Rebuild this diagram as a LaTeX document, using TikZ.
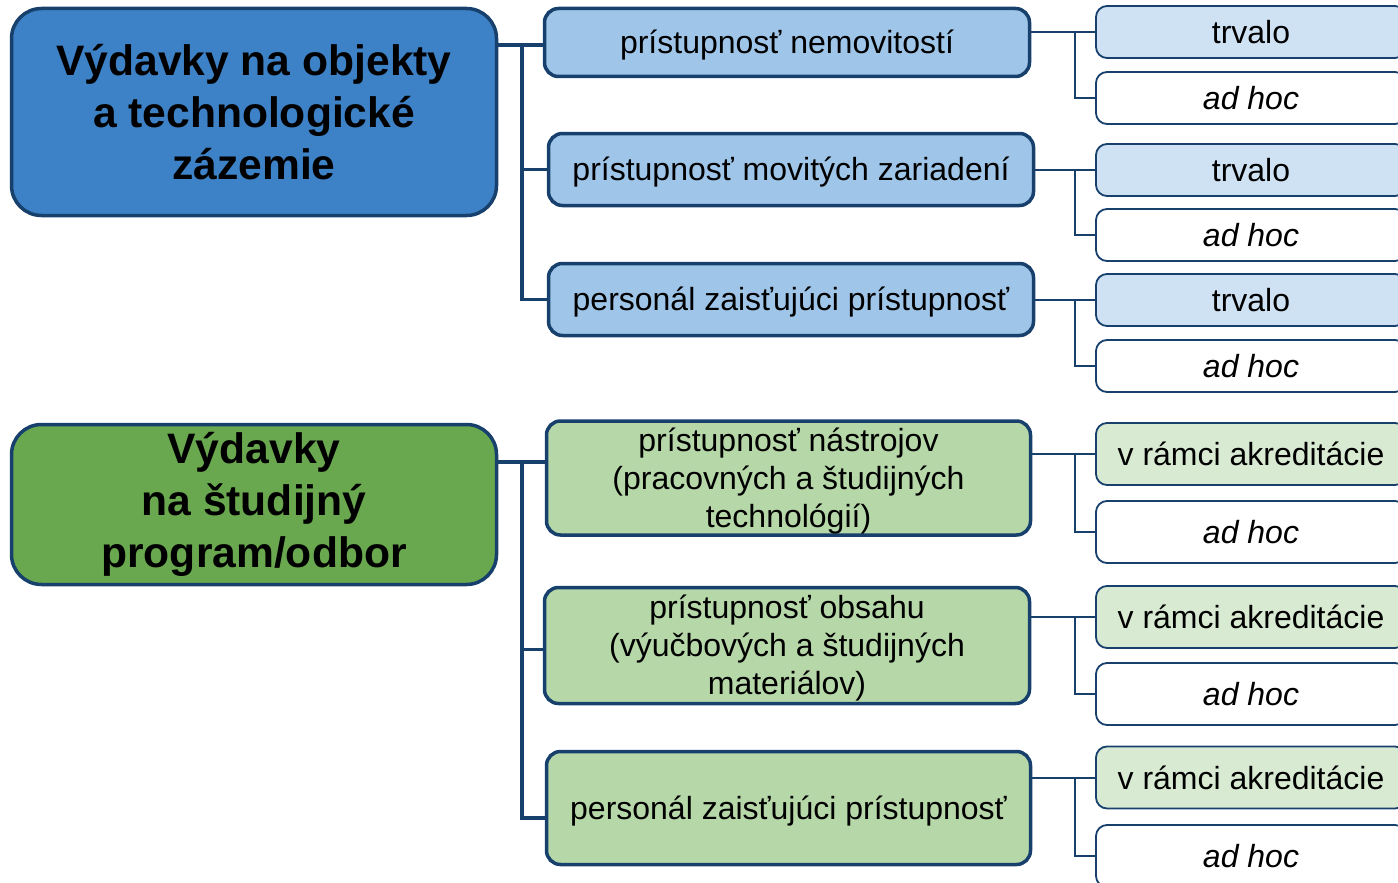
\documentclass[tikz,border=0pt]{standalone}
\usepackage{fontspec}
\setmainfont{Liberation Sans}
\definecolor{navy}{HTML}{17406D}
\definecolor{bluemain}{HTML}{3D82C6}
\definecolor{bluemid}{HTML}{9FC5E8}
\definecolor{bluelight}{HTML}{CFE2F3}
\definecolor{greenmain}{HTML}{6AA84F}
\definecolor{greenmid}{HTML}{B6D7A8}
\definecolor{greenlight}{HTML}{D9EAD3}
\newcommand{\lowtext}[1]{\raisebox{-3.5pt}[\height][\depth]{\begin{tabular}{@{}c@{}}#1\end{tabular}}}
\tikzset{
  mainbox/.style={draw=navy, line width=3.5pt, rounded corners=30pt, align=center,
    font=\fontsize{42.6}{52}\selectfont\bfseries, inner sep=0pt},
  midbox/.style={draw=navy, line width=3.5pt, rounded corners=14pt, align=center,
    font=\fontsize{32}{38}\selectfont, inner sep=0pt},
  leafbox/.style={draw=navy, line width=1.8pt, rounded corners=11pt, align=center,
    font=\fontsize{32}{38}\selectfont, inner sep=0pt, minimum width=310pt},
  thickconn/.style={draw=navy, line width=3.5pt},
  thinconn/.style={draw=navy, line width=2pt},
}
\begin{document}
\begin{tikzpicture}[x=1pt,y=-1pt]
\path[use as bounding box] (0,0) rectangle (1398,883);
\clip (0,0) rectangle (1398,883);
\fill[white] (0,0) rectangle (1398,883);

% left main boxes
\node[mainbox, fill=bluemain, minimum width=485pt, minimum height=207pt] (L1) at (254,112)
  {Výdavky na objekty\\a technologické\\zázemie};
\node[mainbox, fill=greenmain, minimum width=485pt, minimum height=160pt] (L2) at (254,504.5)
  {Výdavky\\na študijný\\program/odbor};

% middle boxes
\node[midbox, fill=bluemid, minimum width=485pt, minimum height=68pt] (M1) at (787,42.5)
  {\lowtext{prístupnosť nemovitostí}};
\node[midbox, fill=bluemid, minimum width=485pt, minimum height=72pt] (M2) at (791,169.5)
  {\lowtext{prístupnosť movitých zariadení}};
\node[midbox, fill=bluemid, minimum width=485pt, minimum height=72pt] (M3) at (791,299.5)
  {\lowtext{personál zaisťujúci prístupnosť}};
\node[midbox, fill=greenmid, minimum width=484pt, minimum height=107pt] (G1) at (788.5,478)
  {\lowtext{prístupnosť nástrojov\\(pracovných a študijných\\technológií)}};
\node[midbox, fill=greenmid, minimum width=485pt, minimum height=116pt] (G2) at (787,645.5)
  {\lowtext{prístupnosť obsahu\\(výučbových a študijných\\materiálov)}};
\node[midbox, fill=greenmid, minimum width=484pt, minimum height=113pt] (G3) at (788.5,808)
  {\lowtext{personál zaisťujúci prístupnosť}};

% leaf boxes
\node[leafbox, fill=bluelight, minimum height=52pt] (R1) at (1251,32) {trvalo};
\node[leafbox, fill=white, minimum height=52pt] (R2) at (1251,98) {\itshape ad hoc};
\node[leafbox, fill=bluelight, minimum height=52pt] (R3) at (1251,170) {trvalo};
\node[leafbox, fill=white, minimum height=52pt] (R4) at (1251,235) {\itshape ad hoc};
\node[leafbox, fill=bluelight, minimum height=52pt] (R5) at (1251,300) {trvalo};
\node[leafbox, fill=white, minimum height=52pt] (R6) at (1251,366) {\itshape ad hoc};
\node[leafbox, fill=greenlight, minimum height=62pt] (S1) at (1251,454) {v rámci akreditácie};
\node[leafbox, fill=white, minimum height=62pt] (S2) at (1251,532) {\itshape ad hoc};
\node[leafbox, fill=greenlight, minimum height=62pt] (S3) at (1251,617) {v rámci akreditácie};
\node[leafbox, fill=white, minimum height=62pt] (S4) at (1251,694) {\itshape ad hoc};
\node[leafbox, fill=greenlight, minimum height=62pt] (S5) at (1251,777.5) {v rámci akreditácie};
\node[leafbox, fill=white, minimum height=62pt] (S6) at (1251,856) {\itshape ad hoc};

% trunk coordinates
\coordinate (t1) at (522,45);
\coordinate (t2) at (522,462);

% left connectors (top group)
\draw[thickconn] (L1.east |- t1) -- (M1.west |- t1);
\draw[thickconn] (t1) -- (t1 |- M3.west) -- (M3.west);
\draw[thickconn] (t1 |- M2.west) -- (M2.west);

% left connectors (bottom group)
\draw[thickconn] (L2.east |- t2) -- (G1.west |- t2);
\draw[thickconn] (t2) -- ([yshift=-10pt]t2 |- G3.west) -- ([yshift=-10pt]G3.west);
\draw[thickconn] ([yshift=-4pt]t2 |- G2.west) -- ([yshift=-4pt]G2.west);

% right connectors
\foreach \m/\a/\b in {M1/R1/R2, M2/R3/R4, M3/R5/R6, G1/S1/S2, G2/S3/S4, G3/S5/S6}{
  \draw[thinconn] (\m.east |- \a.west) -- (\a.west);
  \draw[thinconn] (1075,0 |- \a.west) -- (1075,0 |- \b.west) -- (\b.west);
}
\end{tikzpicture}
\end{document}
